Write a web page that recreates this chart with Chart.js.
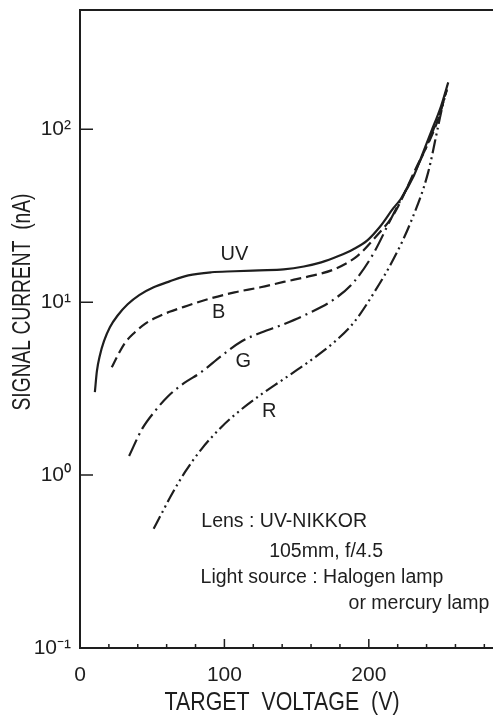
<!DOCTYPE html>
<html>
<head>
<meta charset="utf-8">
<script src="https://cdn.jsdelivr.net/npm/chart.js@4.4.1/dist/chart.umd.min.js"></script>
<style>
  html, body { margin: 0; padding: 0; background: #fff; }
  #wrap { width: 493px; height: 716px; position: relative; }
</style>
</head>
<body>
<div id="wrap"><canvas id="chart"></canvas></div>
<script>
// Datos (tensión en V, corriente en nA)
const uvVolt = [10.3, 11.7, 13.8, 16.6, 20.7, 26.2, 33, 41, 51, 62, 75, 91, 107, 124, 141, 155, 167, 179, 189, 199, 208, 217, 222, 231, 236, 243, 250, 255];
const uvCurr = [3.02, 3.99, 4.94, 5.95, 7.17, 8.41, 9.73, 11.0, 12.2, 13.2, 14.3, 14.9, 15.1, 15.3, 15.5, 16.1, 17.0, 18.5, 20.2, 22.8, 27.5, 35, 39.4, 53.5, 68, 96, 136, 187];

const bVolt = [22, 26, 31, 38, 45, 52, 62, 72, 90, 107, 125, 141, 160, 176, 192, 205, 217, 232, 248, 254];
const bCurr = [4.2, 4.9, 5.8, 6.7, 7.5, 8.1, 8.8, 9.4, 10.5, 11.4, 12.2, 13.1, 14.2, 15.5, 18.5, 24, 32, 58, 114, 170];

const gVolt = [34, 43, 52, 61, 72, 84, 98, 112, 126, 141, 158, 176, 190, 203, 215, 236, 250, 254];
const gCurr = [1.29, 1.85, 2.35, 2.86, 3.4, 3.94, 4.9, 5.95, 6.7, 7.46, 8.6, 10.4, 13.2, 19, 30, 67, 131, 170];

const rVolt = [51, 57, 63, 73, 84, 98, 112, 126, 141, 158, 176, 190, 204, 217, 229, 241, 248, 251, 254];
const rCurr = [0.49, 0.61, 0.76, 1.05, 1.41, 1.9, 2.41, 2.95, 3.59, 4.5, 5.87, 7.7, 11.5, 17.7, 29, 56, 104, 136, 170];

const xTicks = [0, 100, 200];
const yTicks = [0.1, 1, 10, 100];
const yTickLabels = ['10\u207B\u00B9', '10\u2070', '10\u00B9', '10\u00B2'];

// Etiquetas de curva y notas (coordenadas de datos)
const curveLabels = ['UV', 'B', 'G', 'R'];
const curveLabelVolt = [107, 96, 113, 131];
const curveLabelCurr = [18.9, 8.75, 4.56, 2.34];

const noteLines = ['Lens : UV-NIKKOR', '105mm, f/4.5', 'Light source : Halogen lamp', 'or mercury lamp'];
const noteVolt = [84, 131, 83.5, 186];
const noteCurr = [0.54, 0.36, 0.257, 0.18];

const INK = '#1e1e1e';
const FONT = '"Liberation Sans", Arial, Helvetica, sans-serif';

const toPoints = (xs, ys) => xs.map((x, i) => ({ x, y: ys[i] }));

function series(label, xs, ys, dash) {
  return {
    label,
    data: toPoints(xs, ys),
    borderColor: INK,
    borderWidth: 2.2,
    borderDash: dash,
    pointRadius: 0,
    fill: false,
    cubicInterpolationMode: 'monotone'
  };
}

// Texto comprimido horizontalmente hasta un ancho dado
function condensedText(ctx, text, x, y, size, width, rotate) {
  ctx.save();
  ctx.font = size + 'px ' + FONT;
  const w = ctx.measureText(text).width;
  ctx.translate(x, y);
  if (rotate) ctx.rotate(-Math.PI / 2);
  ctx.scale(width / w, 1);
  ctx.textAlign = 'center';
  ctx.textBaseline = 'middle';
  ctx.fillText(text, 0, 0);
  ctx.restore();
}

const framePlugin = {
  id: 'frame',
  afterDraw(chart) {
    const { ctx, chartArea: a, scales: { x, y } } = chart;
    ctx.save();
    ctx.strokeStyle = INK;
    ctx.fillStyle = INK;

    // marco superior
    ctx.lineWidth = 2;
    ctx.beginPath();
    ctx.moveTo(a.left, a.top);
    ctx.lineTo(a.right, a.top);
    ctx.stroke();

    // marcas hacia dentro
    ctx.lineWidth = 1.5;
    ctx.beginPath();
    yTicks.slice(1).forEach(v => {
      const py = y.getPixelForValue(v);
      ctx.moveTo(a.left, py);
      ctx.lineTo(a.left + 13, py);
    });
    for (let v = 20; v < x.max; v += 20) {
      const px = x.getPixelForValue(v);
      ctx.moveTo(px, a.bottom);
      ctx.lineTo(px, a.bottom - (v % 100 === 0 ? 9 : 4));
    }
    ctx.stroke();

    // etiquetas de curvas
    ctx.font = '20px ' + FONT;
    ctx.textAlign = 'center';
    ctx.textBaseline = 'middle';
    curveLabels.forEach((t, i) => {
      ctx.fillText(t, x.getPixelForValue(curveLabelVolt[i]), y.getPixelForValue(curveLabelCurr[i]));
    });

    // notas
    ctx.font = '19.5px ' + FONT;
    ctx.textAlign = 'left';
    noteLines.forEach((t, i) => {
      ctx.fillText(t, x.getPixelForValue(noteVolt[i]), y.getPixelForValue(noteCurr[i]));
    });

    // títulos de ejes
    condensedText(ctx, 'SIGNAL CURRENT  (nA)', 23, 302, 25, 217, true);
    condensedText(ctx, 'TARGET  VOLTAGE  (V)', 282, 703, 25, 235, false);
    ctx.restore();
  }
};

new Chart(document.getElementById('chart'), {
  type: 'line',
  data: {
    datasets: [
      series('UV', uvVolt, uvCurr, []),
      series('B', bVolt, bCurr, [11, 5]),
      series('G', gVolt, gCurr, [18, 5, 2, 5]),
      series('R', rVolt, rCurr, [14, 4, 2, 4, 2, 4])
    ]
  },
  options: {
    responsive: true,
    maintainAspectRatio: false,
    animation: false,
    layout: { padding: { top: 10, right: 0, left: 0, bottom: 0 } },
    plugins: { legend: { display: false }, tooltip: { enabled: false } },
    scales: {
      x: {
        type: 'linear',
        min: 0,
        max: 286,
        afterFit: s => { s.height = 68; s.paddingLeft = 0; s.paddingRight = 0; },
        afterBuildTicks: s => { s.ticks = xTicks.map(v => ({ value: v })); },
        grid: { display: false },
        border: { display: true, color: INK, width: 2 },
        ticks: { color: INK, font: { family: FONT, size: 21 }, padding: 7, maxRotation: 0 }
      },
      y: {
        type: 'logarithmic',
        min: 0.1,
        max: 490,
        afterFit: s => { s.width = 80; s.paddingTop = 0; s.paddingBottom = 0; },
        afterBuildTicks: s => { s.ticks = yTicks.map(v => ({ value: v })); },
        grid: { display: false },
        border: { display: true, color: INK, width: 2 },
        ticks: {
          color: INK,
          font: { family: FONT, size: 21 },
          padding: 1,
          callback: v => yTickLabels[yTicks.indexOf(v)]
        }
      }
    }
  },
  plugins: [framePlugin]
});
</script>
</body>
</html>
